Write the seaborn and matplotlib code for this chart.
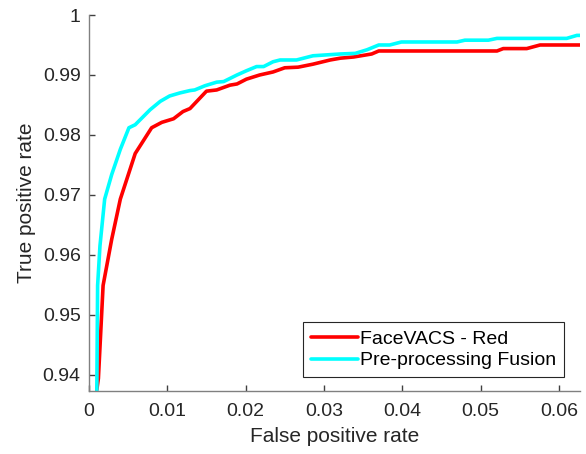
import numpy as np
import pandas as pd
import matplotlib
matplotlib.use("Agg")
import matplotlib.pyplot as plt
import seaborn as sns

series_names = ["FaceVACS - Red", "Pre-processing Fusion"]

red_fpr = [0.0010, 0.0012, 0.0018, 0.0029, 0.0040, 0.0059, 0.0080, 0.0093, 0.0108,
           0.0120, 0.0129, 0.0150, 0.0163, 0.0180, 0.0189, 0.0201, 0.0218, 0.0235,
           0.0250, 0.0267, 0.0286, 0.0308, 0.0321, 0.0338, 0.0361, 0.0370, 0.0521,
           0.0529, 0.0559, 0.0576, 0.0630]
red_tpr = [0.9375, 0.9394, 0.9549, 0.9626, 0.9693, 0.9769, 0.9812, 0.9821, 0.9827,
           0.9839, 0.9844, 0.9873, 0.9875, 0.9883, 0.9885, 0.9893, 0.9900, 0.9905,
           0.9912, 0.9913, 0.9918, 0.9925, 0.9928, 0.9930, 0.9935, 0.9940, 0.9940,
           0.9944, 0.9944, 0.9950, 0.9950]

cyan_fpr = [0.0010, 0.0011, 0.0014, 0.0020, 0.0029, 0.0040, 0.0051, 0.0059, 0.0078,
            0.0091, 0.0103, 0.0116, 0.0129, 0.0135, 0.0148, 0.0163, 0.0172, 0.0189,
            0.0201, 0.0214, 0.0223, 0.0235, 0.0244, 0.0265, 0.0286, 0.0321, 0.0340,
            0.0355, 0.0370, 0.0384, 0.0399, 0.0470, 0.0480, 0.0510, 0.0521, 0.0610,
            0.0623, 0.0630]
cyan_tpr = [0.9374, 0.9549, 0.9615, 0.9693, 0.9734, 0.9776, 0.9812, 0.9817, 0.9842,
            0.9856, 0.9865, 0.9870, 0.9874, 0.9875, 0.9882, 0.9888, 0.9889, 0.9900,
            0.9907, 0.9914, 0.9914, 0.9922, 0.9925, 0.9925, 0.9932, 0.9935, 0.9936,
            0.9942, 0.9950, 0.9950, 0.9955, 0.9955, 0.9958, 0.9958, 0.9961, 0.9961,
            0.9966, 0.9966]

x_ticks = [0, 0.01, 0.02, 0.03, 0.04, 0.05, 0.06]
x_ticklabels = ["0", "0.01", "0.02", "0.03", "0.04", "0.05", "0.06"]
y_ticks = [0.94, 0.95, 0.96, 0.97, 0.98, 0.99, 1.0]
y_ticklabels = ["0.94", "0.95", "0.96", "0.97", "0.98", "0.99", "1"]

df = pd.concat([
    pd.DataFrame({"fpr": red_fpr, "tpr": red_tpr, "method": series_names[0]}),
    pd.DataFrame({"fpr": cyan_fpr, "tpr": cyan_tpr, "method": series_names[1]}),
], ignore_index=True)

sns.set_theme(style="ticks")
plt.rcParams["font.family"] = ["Liberation Sans", "DejaVu Sans"]

fig = plt.figure(figsize=(5.86, 4.54), dpi=100)
ax = fig.add_axes([89/586, 1 - 391/454, (580 - 89)/586, (391 - 15)/454])

sns.lineplot(data=df, x="fpr", y="tpr", hue="method",
             palette={series_names[0]: "#ff0000", series_names[1]: "#00ffff"},
             hue_order=series_names, sort=False, estimator=None, linewidth=2.6, ax=ax)

ax.set_xlim(0, 0.0627)
ax.set_ylim(0.9373, 1.0)
ax.set_xticks(x_ticks)
ax.set_xticklabels(x_ticklabels)
ax.set_yticks(y_ticks)
ax.set_yticklabels(y_ticklabels)

text_c = "#262626"
spine_c = "#808080"
for s in ["top", "right"]:
    ax.spines[s].set_visible(False)
for s in ["left", "bottom"]:
    ax.spines[s].set_color(spine_c)
    ax.spines[s].set_linewidth(1.0)
ax.tick_params(axis="both", direction="in", length=4, width=1.0, color="#404040",
               labelsize=14, labelcolor=text_c, pad=6)
ax.tick_params(axis="x", pad=9)
ax.set_xlabel("False positive rate", fontsize=15, color=text_c, labelpad=5)
ax.set_ylabel("True positive rate", fontsize=15, color=text_c, labelpad=5)

leg = ax.legend(loc="lower right", bbox_to_anchor=(0.968, 0.037), fontsize=14,
                frameon=True, fancybox=False, edgecolor="#262626", framealpha=1,
                handlelength=2.45, handletextpad=0.1, borderpad=0.4, labelspacing=0.2,
                borderaxespad=0)
leg.get_frame().set_linewidth(0.8)
for t in leg.get_texts():
    t.set_color("#000000")

fig.savefig("out.png", dpi=100)
